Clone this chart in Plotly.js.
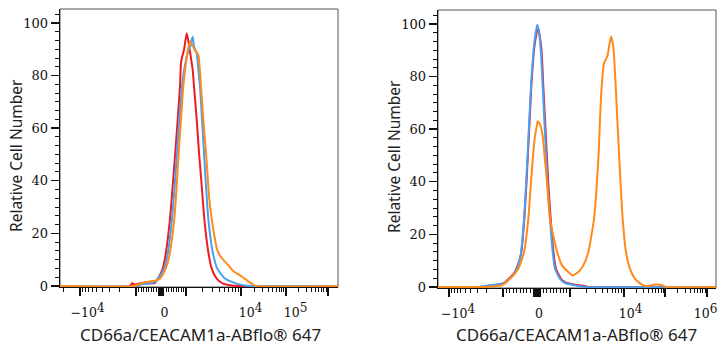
<!DOCTYPE html>
<html>
<head>
<meta charset="utf-8">
<script src="https://cdn.plot.ly/plotly-3.0.1.min.js"></script>
<style>html,body{margin:0;padding:0;background:#fff;}#chart{width:728px;height:350px;}</style>
</head>
<body>
<div id="chart"></div>
<script>
// ---------- DATA (x in display channels of the biexponential axis, 0..278) ----------
// Left panel
const leftRedX = [0, 70, 72, 75, 80, 90, 95, 98, 102.7, 106, 110, 112.7, 115.3, 117.7, 120, 121, 122.3, 124, 126.7, 128.7, 130.7, 132.7, 134, 136.7, 139, 141.7, 144.3, 148.3, 151.7, 156.7, 163, 170, 180, 278];
const leftRedY = [0, 0, 1, 0.5, 1, 0.9, 1.2, 2.8, 6.6, 12.9, 25.5, 38.1, 50.8, 63.3, 75.9, 84.8, 87.3, 89.8, 96.1, 92.3, 87.3, 82.2, 75.9, 63.3, 50.8, 38.1, 25.5, 12.9, 6.6, 2.8, 0.9, 0.3, 0, 0];
const leftBlueX = [0, 78, 80, 90, 95, 98, 104, 108, 112, 114.7, 117, 119.3, 122, 125, 128, 130, 132.7, 134, 136.7, 138.3, 140, 142, 144, 146, 148.3, 152.7, 157.3, 165, 176.7, 185, 195, 278];
const leftBlueY = [0, 0, 0.5, 1, 1.5, 2.8, 6.6, 12.9, 25.5, 38.1, 50.8, 63.3, 75.9, 84, 89, 91, 94.8, 91, 88.5, 82.2, 75.9, 63.3, 50.8, 38.1, 25.5, 12.9, 6.6, 2.8, 0.9, 0.2, 0, 0];
const leftOrangeX = [0, 74, 80, 85, 90, 95, 100, 105.7, 110, 114.3, 116.7, 118.7, 121, 123.3, 126, 128, 130, 133, 136, 138.3, 141, 143.3, 146, 148.3, 149.3, 151.7, 154.3, 157, 160, 166.7, 173, 180, 186.7, 192, 196, 278];
const leftOrangeY = [0, 0, 0.8, 1.5, 1.7, 2, 2.8, 6.6, 12.9, 25.5, 38.1, 50.8, 63.3, 75.9, 85, 90, 92.9, 91, 89, 87.9, 75.9, 63.3, 50.8, 38.1, 33, 25.5, 19.2, 14, 11.5, 8.5, 5.8, 4, 2.2, 0.8, 0, 0];

// Right panel
const rightRedX = [0, 44, 50, 60, 66, 70.5, 76, 80, 83, 86.3, 88.3, 90, 91.7, 93.3, 95.5, 97, 99.8, 101.5, 103.7, 105.3, 107, 108.7, 110.5, 112.7, 115.5, 118, 123, 128, 135, 142, 146, 150, 278];
const rightRedY = [0, 0, 0.4, 0.9, 1.5, 3.0, 5.2, 8.5, 12.5, 25.8, 38.4, 51.1, 63.7, 76.3, 88, 93, 98.6, 96, 88.9, 76.3, 63.7, 51.1, 38.4, 25.8, 13.2, 6.9, 3.1, 1.6, 1.0, 0.6, 0.4, 0, 0];
const rightBlueX = [0, 40, 46, 56, 62, 66, 70, 76, 80, 82.7, 86, 88, 89.7, 91.3, 93, 95.3, 97, 99.3, 101, 103, 104.7, 106.3, 108, 109.7, 112, 114.7, 117, 122, 127, 132, 140, 146, 278];
const rightBlueY = [0, 0, 0.3, 0.8, 1.0, 1.5, 2.5, 5, 8, 12, 25.8, 38.4, 51.1, 63.7, 76.3, 88.9, 95, 99.7, 97, 88.9, 76.3, 63.7, 51.1, 38.4, 25.8, 13.2, 6.9, 3.1, 1.5, 1.0, 0.4, 0, 0];
const rightOrangeX = [0, 50, 56, 63.7, 72, 80.3, 86, 90.3, 92.7, 95.3, 97, 98.7, 99.7, 101, 102.7, 104.7, 106.3, 109.3, 112, 115.3, 119.3, 124, 130.3, 134.7, 140.3, 145.3, 150.3, 156, 158.7, 160.7, 162, 163.7, 166, 169.3, 173, 175.3, 177.7, 179.3, 181, 182.7, 184.7, 188, 192, 197, 203.7, 208.7, 213, 218, 224, 228, 278];
const rightOrangeY = [0, 0, 0.3, 0.6, 3.1, 6.9, 13.2, 25.8, 38.4, 51.1, 57.4, 61, 63, 62.5, 61.2, 57.4, 51.1, 38.4, 25.8, 19.5, 13.2, 8.2, 5.7, 4.4, 5.7, 8.2, 13.2, 25.8, 38.4, 51.1, 63.7, 76.3, 85.1, 87.6, 95.2, 91.4, 76.3, 63.7, 51.1, 38.4, 25.8, 13.2, 6.9, 3.1, 1.0, 0.3, 0.6, 0.9, 0.7, 0, 0];

// Axis decades: -10^4, -10^3, 0, 10^3, 10^4, 10^5, 10^6 (channel positions)
const leftDecades = [20, 76, 101, 126, 181, 226, 268];
const rightDecades = [11, 65, 99, 132, 186, 227, 269];
const SUP = s => '<sup><span style="font-size:12px">' + s + '</span></sup>';
const leftTickText = ['\u221210' + SUP('4'), '0', '10' + SUP('4'), '10' + SUP('5')];
const leftTickLabelAt = [27.5, 104.5, 190.5, 235.5];
const rightTickText = ['\u221210' + SUP('4'), '0', '10' + SUP('4'), '10' + SUP('6')];
const rightTickLabelAt = [20, 101, 192.5, 267.5];

const yTickVals = [0, 20, 40, 60, 80, 100];
const xTitle = 'CD66a/CEACAM1a-ABflo\u00ae 647';
const yTitle = 'Relative Cell Number';

// ---------- helpers ----------
function minorTicks(d, maxC) {
  const out = [];
  const lg = k => Math.log10(k);
  for (let k = 2; k <= 9; k++) {
    out.push(d[0] - lg(k) * (d[1] - d[0]));
    out.push(d[1] - lg(k) * (d[1] - d[0]));
    for (let i = 3; i < d.length - 1; i++) out.push(d[i] + lg(k) * (d[i + 1] - d[i]));
    out.push(d[d.length - 1] + lg(k) * (d[d.length - 1] - d[d.length - 2]));
  }
  for (let k = 1; k <= 9; k++) {
    out.push(d[2] + k / 10 * (d[3] - d[2]));
    out.push(d[2] - k / 10 * (d[2] - d[1]));
  }
  return out.filter(v => v > 0.5 && v < maxC - 0.5);
}
function majorTicks(d, half) {
  const out = d.slice();
  for (let j = 1; j <= half; j++) { out.push(d[2] - j * 0.9); out.push(d[2] + j * 0.9); }
  return out;
}

const C_RED = '#ec1c24', C_BLUE = '#4a9ff2', C_ORANGE = '#ff8a1c';
const serif = 'DejaVu Serif, Liberation Serif, serif';
const sans = 'Noto Sans, Open Sans, sans-serif';

function line(x, y, color, xa, ya) {
  return {x: x, y: y, type: 'scatter', mode: 'lines', xaxis: xa, yaxis: ya,
    line: {color: color, width: 2, shape: 'spline', smoothing: 0.5}, hoverinfo: 'skip', showlegend: false};
}

const traces = [
  line(leftRedX, leftRedY, C_RED, 'x', 'y'),
  line(leftBlueX, leftBlueY, C_BLUE, 'x', 'y'),
  line(leftOrangeX, leftOrangeY, C_ORANGE, 'x', 'y'),
  line(rightRedX, rightRedY, C_RED, 'x2', 'y2'),
  line(rightBlueX, rightBlueY, C_BLUE, 'x2', 'y2'),
  line(rightOrangeX, rightOrangeY, C_ORANGE, 'x2', 'y2'),
  {x: [], y: [], type: 'scatter', xaxis: 'x3', yaxis: 'y', showlegend: false, hoverinfo: 'skip'},
  {x: [], y: [], type: 'scatter', xaxis: 'x4', yaxis: 'y2', showlegend: false, hoverinfo: 'skip'}
];

const XR = [0, 278];
function tickAxis(domain, anchor, dec, half) {
  return {domain: domain, anchor: anchor, range: XR, tickmode: 'array',
    tickvals: majorTicks(dec, half), showticklabels: false,
    ticks: 'outside', ticklen: 8, tickwidth: 1.3, tickcolor: '#111',
    minor: {tickmode: 'array', tickvals: minorTicks(dec, 278), ticks: 'outside', ticklen: 4, tickwidth: 1, tickcolor: '#111'},
    showline: true, linecolor: '#111', linewidth: 1.3, showgrid: false, zeroline: false,
    layer: 'below traces', fixedrange: true};
}
function labelAxis(over, anchor, pos, txt) {
  return {overlaying: over, anchor: anchor, range: XR, tickmode: 'array', tickvals: pos, ticktext: txt,
    ticks: 'outside', ticklen: 14, tickcolor: 'rgba(0,0,0,0)', showline: false, showgrid: false, zeroline: false,
    tickfont: {family: serif, size: 12.5, color: '#111'}, fixedrange: true};
}
function yAxis(domain, anchor) {
  return {domain: domain, anchor: anchor, range: [-0.4, 105.3], tickmode: 'array', tickvals: yTickVals,
    ticks: 'outside', ticklen: 8, tickwidth: 1.3, tickcolor: '#111',
    minor: {tick0: 0, dtick: 10 / 3, ticks: 'outside', ticklen: 4, tickwidth: 1, tickcolor: '#111'},
    showline: true, linecolor: '#111', linewidth: 1.3, showgrid: false, zeroline: false,
    tickfont: {family: serif, size: 13, color: '#111'}, layer: 'below traces', fixedrange: true};
}

const W = 728, H = 350;
const layout = {
  width: W, height: H, margin: {l: 0, r: 0, t: 0, b: 0},
  paper_bgcolor: '#fff', plot_bgcolor: '#fff', showlegend: false,
  xaxis: tickAxis([60 / W, 338 / W], 'y', leftDecades, 3),
  xaxis2: tickAxis([438 / W, 716 / W], 'y2', rightDecades, 4),
  xaxis3: labelAxis('x', 'y', leftTickLabelAt, leftTickText),
  xaxis4: labelAxis('x2', 'y2', rightTickLabelAt, rightTickText),
  yaxis: yAxis([(H - 287) / H, (H - 9) / H], 'x'),
  yaxis2: yAxis([(H - 288) / H, (H - 10) / H], 'x2'),
  shapes: [
    {type: 'rect', xref: 'x domain', yref: 'y domain', x0: 0, x1: 1, y0: 0, y1: 1, line: {color: '#555', width: 1}, layer: 'below'},
    {type: 'rect', xref: 'x2 domain', yref: 'y2 domain', x0: 0, x1: 1, y0: 0, y1: 1, line: {color: '#555', width: 1}, layer: 'below'}
  ],
  annotations: [
    {text: yTitle, xref: 'paper', yref: 'paper', x: 16 / W, y: (H - 156) / H, textangle: -90, showarrow: false,
      xanchor: 'center', yanchor: 'middle', font: {family: sans, size: 15.5, color: '#222'}},
    {text: yTitle, xref: 'paper', yref: 'paper', x: 394 / W, y: (H - 157) / H, textangle: -90, showarrow: false,
      xanchor: 'center', yanchor: 'middle', font: {family: sans, size: 15.5, color: '#222'}},
    {text: xTitle, xref: 'paper', yref: 'paper', x: 200 / W, y: (H - 334) / H, showarrow: false,
      xanchor: 'center', yanchor: 'middle', font: {family: sans, size: 17, color: '#222'}},
    {text: xTitle, xref: 'paper', yref: 'paper', x: 576 / W, y: (H - 334) / H, showarrow: false,
      xanchor: 'center', yanchor: 'middle', font: {family: sans, size: 17, color: '#222'}}
  ]
};

Plotly.newPlot('chart', traces, layout, {displayModeBar: false, staticPlot: true});
</script>
</body>
</html>
